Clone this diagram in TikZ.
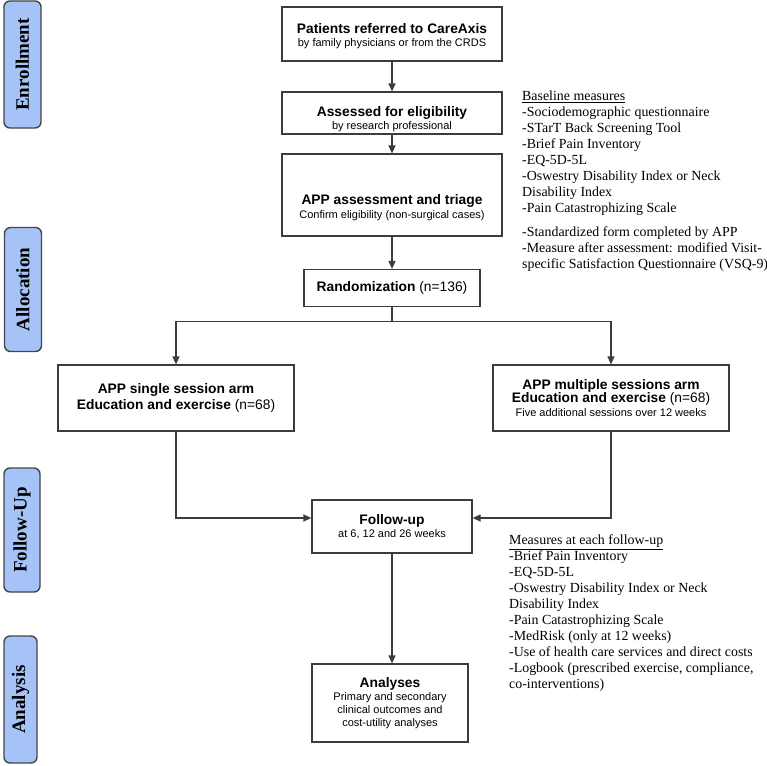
\documentclass[tikz,border=0pt]{standalone}
\usepackage{fontspec}
\setmainfont{Liberation Serif}
\newfontfamily\arial{Liberation Sans}
\usetikzlibrary{arrows.meta,calc}
\definecolor{sidefill}{RGB}{166,195,247}
\definecolor{sidedraw}{RGB}{70,70,70}
\definecolor{boxdraw}{RGB}{60,60,60}
\begin{document}
\begin{tikzpicture}[x=1pt,y=-1pt,
  sidebox/.style={draw=sidedraw,fill=sidefill,line width=1.4pt,rounded corners=6pt,
    rotate=90,inner sep=0pt,font=\fontsize{19}{22}\selectfont\bfseries},
  flowbox/.style={draw=boxdraw,line width=1.2pt,inner sep=0pt,align=center,
    font=\arial\fontsize{11}{13.5}\selectfont},
  boxtext/.style={align=center,inner sep=0pt,font=\arial\fontsize{11}{13.5}\selectfont},
  conn/.style={draw=boxdraw,line width=1.2pt},
  arr/.style={conn,-{Triangle[length=8pt,width=7pt]}},
  notes/.style={anchor=north west,inner sep=0pt,align=left,
    font=\fontsize{13.9}{16}\selectfont}
]
\useasboundingbox (0,0) rectangle (767,765);
% side labels
\node[sidebox,minimum width=127pt,minimum height=37pt] (enr) at (22.5,64.5) {Enrollment};
\node[sidebox,minimum width=124pt,minimum height=37pt] (alc) at (23,289.5) {Allocation};
\node[sidebox,minimum width=124pt,minimum height=36pt] (fol) at (22,530) {Follow-Up};
\node[sidebox,minimum width=127pt,minimum height=33pt] (ana) at (20.5,699.5) {Analysis};
% boxes
\node[flowbox,minimum width=220pt,minimum height=54pt] (pat) at (392,34) {};
\node[boxtext] (patt) at (392,36)
  {{\fontsize{13.8}{17}\selectfont\bfseries Patients referred to CareAxis}\\by family physicians or from the CRDS};
\node[flowbox,minimum width=220pt,minimum height=42pt] (ass) at (392,113) {};
\node[boxtext] (asst) at (392,119)
  {{\fontsize{13.8}{16}\selectfont\bfseries Assessed for eligibility}\\by research professional};
\node[flowbox,minimum width=220pt,minimum height=82pt] (app) at (392,195) {};
\node[boxtext] (appt) at (392,207.5)
  {{\fontsize{13.8}{16}\selectfont\bfseries APP assessment and triage}\\Confirm eligibility (non-surgical cases)};
\node[flowbox,minimum width=176pt,minimum height=37pt,font=\arial\fontsize{13.8}{16}\selectfont] (rnd) at (392,288)
  {\textbf{Randomization} (n=136)};
\node[flowbox,minimum width=236pt,minimum height=66pt,font=\arial\fontsize{13.8}{16}\selectfont] (left) at (176,398)
  {\textbf{APP single session arm}\\\textbf{Education and exercise} (n=68)};
\node[flowbox,minimum width=236pt,minimum height=66pt] (right) at (611,398)
  {{\fontsize{13.8}{16}\selectfont\textbf{APP multiple sessions arm}}\\{\fontsize{13.8}{16}\selectfont\textbf{Education and exercise} (n=68)}\\Five additional sessions over 12 weeks};
\node[flowbox,minimum width=160pt,minimum height=53pt] (fu) at (392,526.5)
  {{\fontsize{13.8}{16}\selectfont\bfseries Follow-up}\\at 6, 12 and 26 weeks};
\node[flowbox,minimum width=156pt,minimum height=78pt,font=\arial\fontsize{11}{13}\selectfont] (an) at (390,703)
  {{\fontsize{13.8}{16}\selectfont\bfseries Analyses}\\Primary and secondary\\clinical outcomes and\\cost-utility analyses};
% notes
\node[notes] (base) at (522,91)
  {\underline{Baseline measures}\\-Sociodemographic questionnaire\\-STarT Back Screening Tool\\-Brief Pain Inventory\\-EQ-5D-5L\\-Oswestry Disability Index or Neck\\Disability Index\\-Pain Catastrophizing Scale};
\node[notes] (std) at (522,227)
  {-Standardized form completed by APP\\-Measure after assessment: modified Visit-\\specific Satisfaction Questionnaire (VSQ-9)};
\node[notes] (meas) at (509,535)
  {\underline{Measures at each follow-up}\\-Brief Pain Inventory\\-EQ-5D-5L\\-Oswestry Disability Index or Neck\\Disability Index\\-Pain Catastrophizing Scale\\-MedRisk (only at 12 weeks)\\-Use of health care services and direct costs\\-Logbook (prescribed exercise, compliance,\\co-interventions)};
% connectors
\draw[arr] (pat) -- (ass);
\draw[arr] (ass) -- (app);
\draw[arr] (app) -- (rnd);
\coordinate (split) at ($(rnd.south)+(0,14.5)$);
\draw[conn] (rnd.south) -- (split);
\draw[arr] (split) -| (left.north);
\draw[arr] (split) -| (right.north);
\coordinate (fuL) at ([yshift=8.5pt]fu.west);
\coordinate (fuR) at ([yshift=8.5pt]fu.east);
\draw[arr] (left.south) |- (fuL);
\draw[arr] (right.south) |- (fuR);
\draw[arr] (fu.south) -- (fu.south |- an.north);
\end{tikzpicture}
\end{document}
